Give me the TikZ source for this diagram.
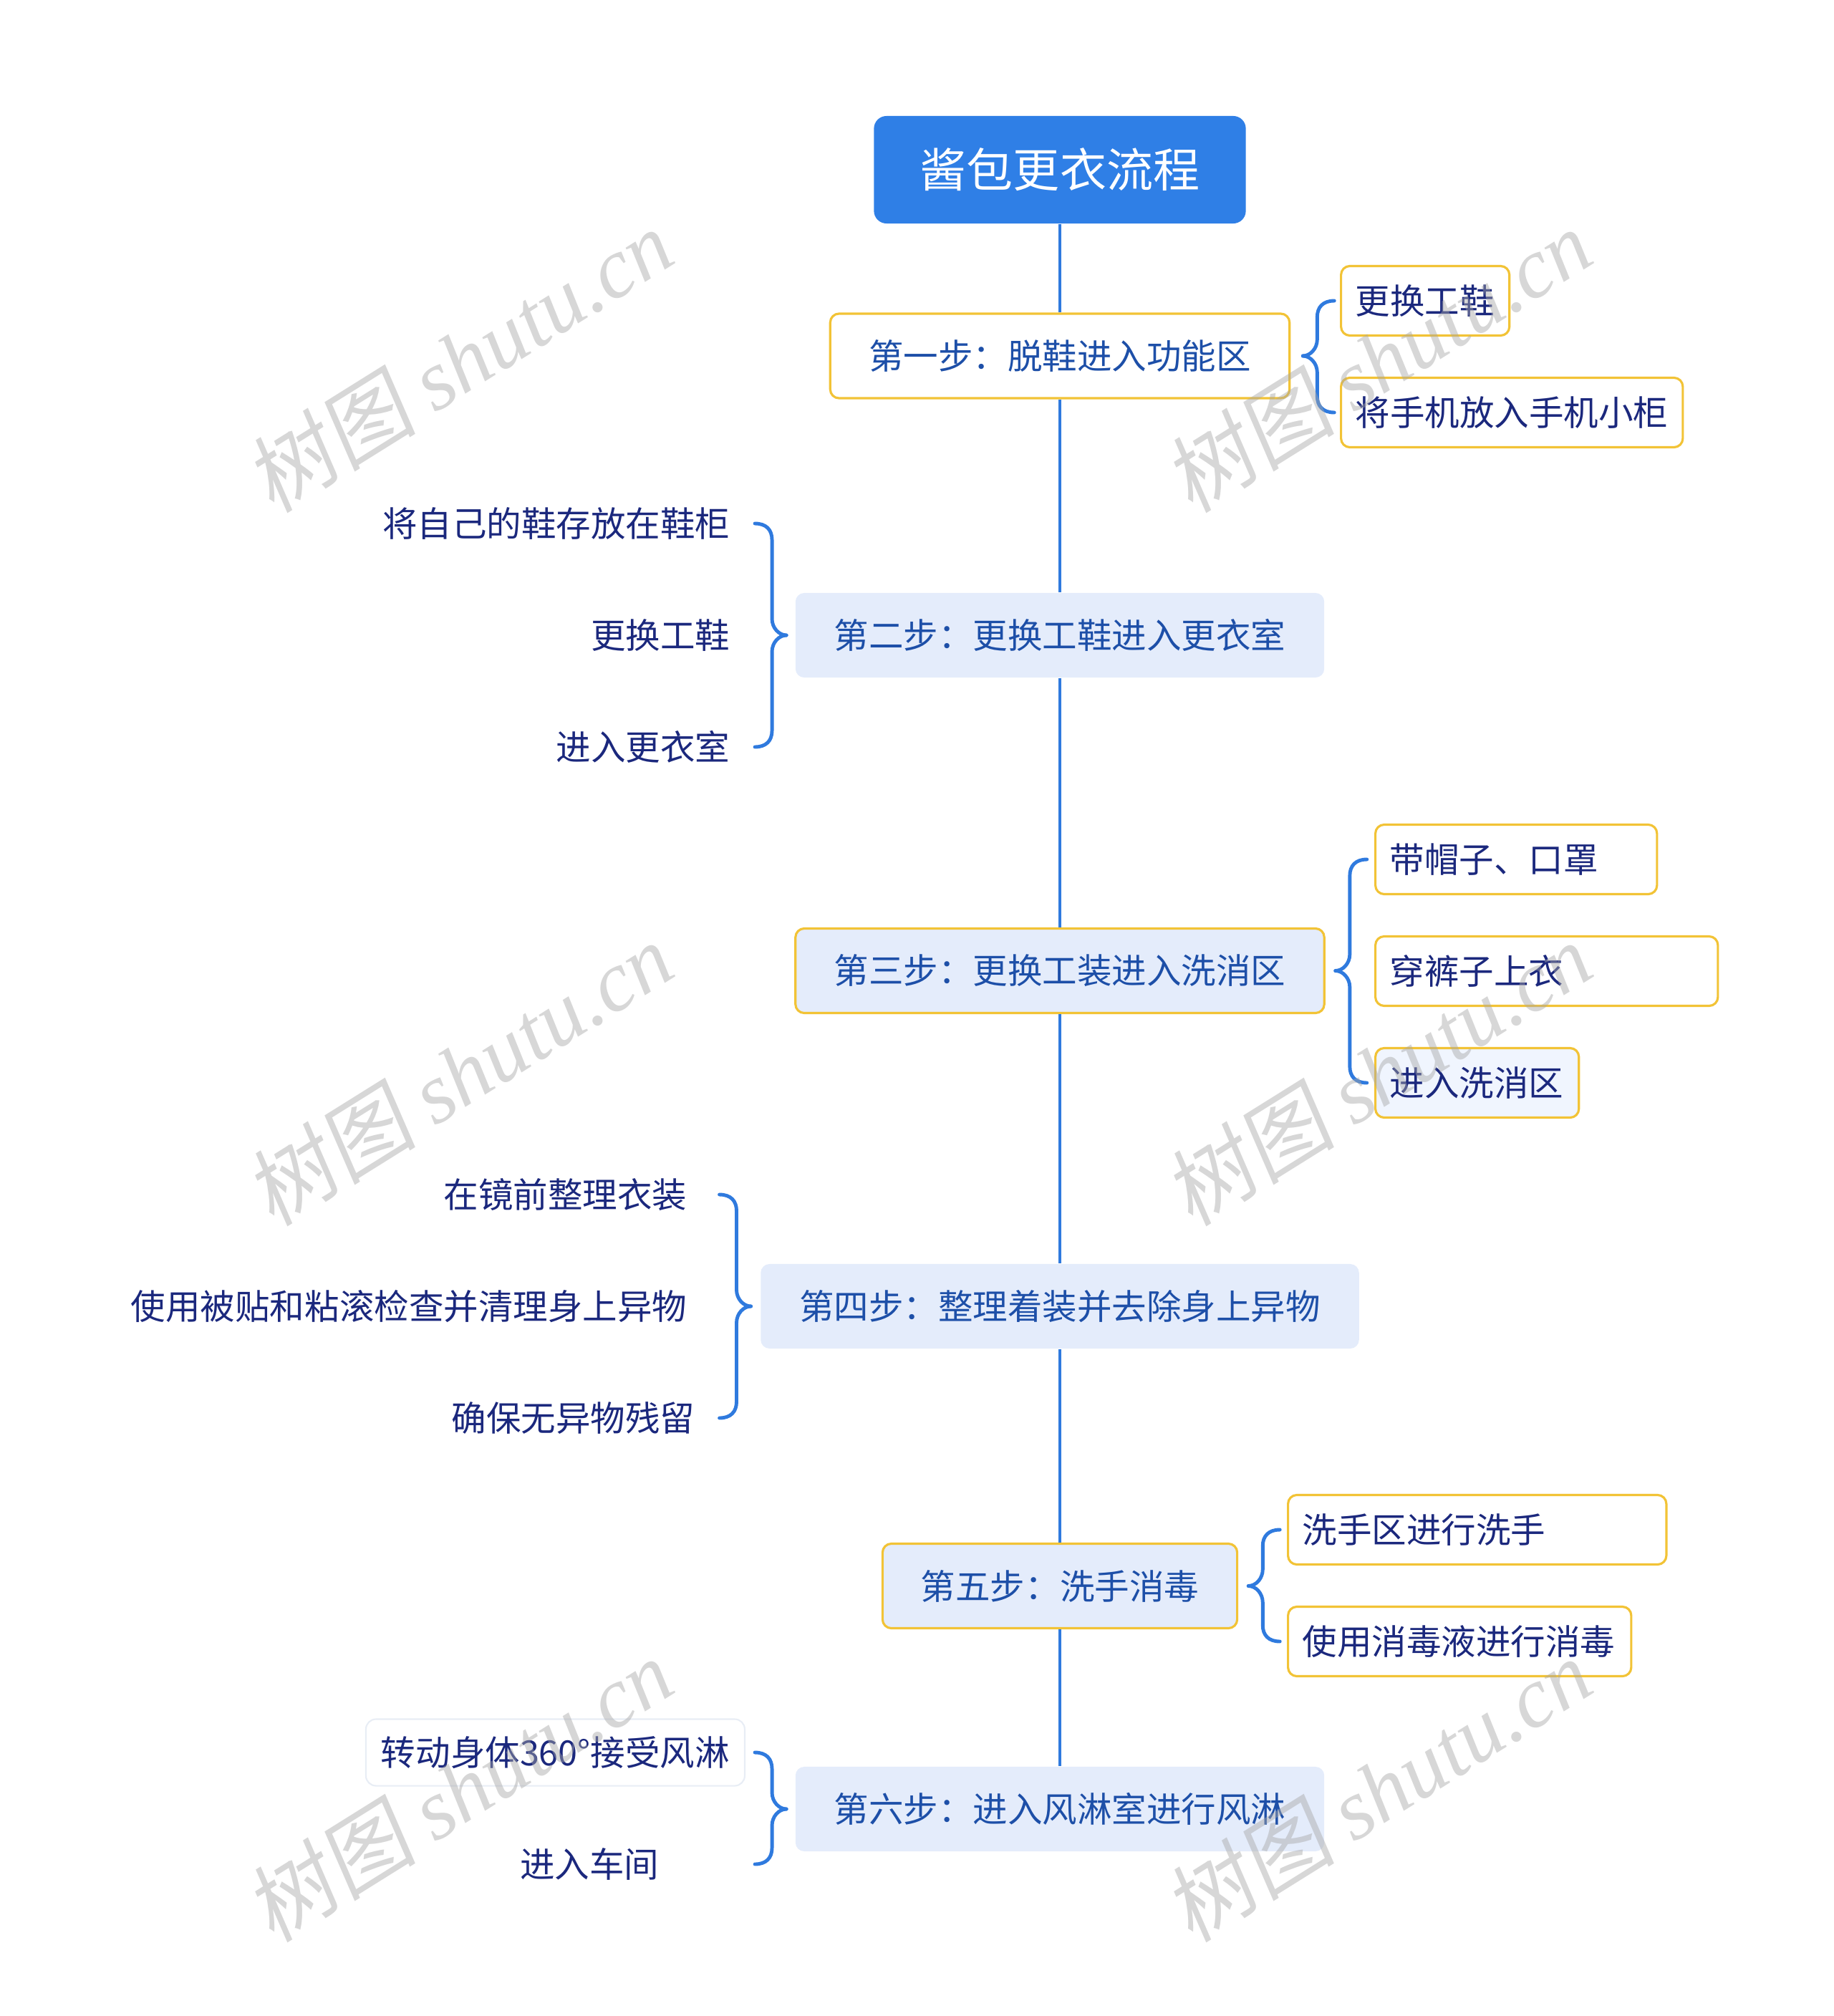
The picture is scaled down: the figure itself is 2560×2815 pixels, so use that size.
\documentclass[tikz,border=0pt]{standalone}
\usepackage{fontspec}
\setmainfont{Noto Sans CJK SC}
\newfontfamily\wmcjk[FakeSlant=0.15]{Noto Sans CJK SC}
\newfontfamily\wmlat{Liberation Serif}
\usetikzlibrary{calc}
\definecolor{rootblue}{RGB}{47,127,230}
\definecolor{lineblue}{RGB}{47,122,222}
\definecolor{gold}{RGB}{242,195,54}
\definecolor{lightfill}{RGB}{228,236,251}
\definecolor{palefill}{RGB}{240,245,254}
\definecolor{steptext}{RGB}{29,79,168}
\definecolor{leaftext}{RGB}{27,40,125}
\definecolor{faintedge}{RGB}{232,237,245}
\newcommand\lbx[2]{\makebox[#1][l]{#2}}
\newcommand\brk[4]{\draw[brline] let \p1=(#1), \p2=(#2) in
  (\x1,\y1) .. controls ({\x1+(#3)*3pt},\y1) and ({\x1+(#3)*5.7pt},{\y1+(#4)*3pt}) ..
  ({\x1+(#3)*5.7pt},{\y1+(#4)*6.5pt}) -- ({\x1+(#3)*5.7pt},{\y2-(#4)*6.5pt})
  .. controls ({\x1+(#3)*5.7pt},{\y2-(#4)*2.5pt}) and ({\x1+(#3)*8pt},\y2) .. ({\x1+(#3)*12.5pt},\y2);}
\begin{document}
\begin{tikzpicture}[x=0.01cm,y=-0.01cm,
  txtfont/.style={font=\fontsize{13.8pt}{16pt}\selectfont},
  rootbox/.style={rounded corners=5pt, fill=rootblue, text=white, font=\fontsize{18.5pt}{22pt}\selectfont,
    minimum width=5.19cm, minimum height=1.5cm, inner sep=0pt},
  stepbase/.style={rounded corners=3.5pt, text=steptext, txtfont, minimum height=1.18cm, inner sep=0pt},
  stepY/.style={stepbase, fill=white, draw=gold, line width=0.9pt},
  stepB/.style={stepbase, fill=lightfill},
  stepBY/.style={stepbase, fill=lightfill, draw=gold, line width=0.9pt},
  leafR/.style={rounded corners=3.5pt, draw=gold, line width=0.9pt, fill=white, text=leaftext, txtfont,
    minimum height=0.97cm, inner xsep=0.2cm, inner ysep=0pt, anchor=west},
  leafL/.style={text=leaftext, txtfont, inner sep=0pt, anchor=east},
  spine/.style={draw=lineblue, line width=1.4pt},
  brline/.style={draw=lineblue, line width=1.4pt, line cap=round},
  wm/.style={rotate=32, text=gray!70, opacity=0.45}
]
\useasboundingbox (0,0) rectangle (2560,2815);

% root and steps
\node[rootbox] (root) at (1480,237) {酱包更衣流程};
\node[stepY, minimum width=6.41cm] (s1) at (1480,497) {第一步：脱鞋进入功能区};
\node[stepB, minimum width=7.38cm] (s2) at (1480,887) {第二步：更换工鞋进入更衣室};
\node[stepBY, minimum width=7.38cm] (s3) at (1480,1355.5) {第三步：更换工装进入洗消区};
\node[stepB, minimum width=8.35cm] (s4) at (1480,1824) {第四步：整理着装并去除身上异物};
\node[stepBY, minimum width=4.95cm] (s5) at (1480,2214.5) {第五步：洗手消毒};
\node[stepB, minimum width=7.38cm] (s6) at (1480,2526) {第六步：进入风淋室进行风淋};

\draw[spine] (root.south) -- (s1.north);
\draw[spine] (s1.south) -- (s2.north);
\draw[spine] (s2.south) -- (s3.north);
\draw[spine] (s3.south) -- (s4.north);
\draw[spine] (s4.south) -- (s5.north);
\draw[spine] (s5.south) -- (s6.north);

% step 1 children
\node[leafR] (c11) at (1871,420) {\lbx{1.95cm}{更换工鞋}};
\node[leafR] (c12) at (1871,576) {\lbx{4.37cm}{将手机放入手机小柜}};
% step 2 children
\node[leafL] (c21) at (1020,731) {将自己的鞋存放在鞋柜};
\node[leafL] (c22) at (1020,887) {更换工鞋};
\node[leafL] (c23) at (1020,1043) {进入更衣室};
% step 3 children
\node[leafR] (c31) at (1919,1200) {\lbx{3.53cm}{带帽子、口罩}};
\node[leafR] (c32) at (1919,1356) {\lbx{4.38cm}{穿裤子上衣}};
\node[leafR, fill=palefill] (c33) at (1919,1512) {\lbx{2.44cm}{进入洗消区}};
% step 4 children
\node[leafL] (c41) at (960,1668) {在镜前整理衣装};
\node[leafL] (c42) at (960,1824) {使用被贴和粘滚检查并清理身上异物};
\node[leafL] (c43) at (971,1980) {确保无异物残留};
% step 5 children
\node[leafR] (c51) at (1797,2136) {\lbx{4.88cm}{洗手区进行洗手}};
\node[leafR] (c52) at (1797,2292) {\lbx{4.39cm}{使用消毒液进行消毒}};
% step 6 children
\node[leafL, draw=faintedge, line width=0.6pt, rounded corners=4pt, fill=white,
  inner xsep=0.21cm, minimum height=0.93cm] (c61) at (1041,2447) {转动身体360°接受风淋};
\node[leafL] (c62) at (921,2603) {进入车间};

% bracket tips
\coordinate (t1) at ($(s1.east)+(17,0)$);
\coordinate (t2) at ($(s2.west)+(-12,0)$);
\coordinate (t3) at ($(s3.east)+(14,0)$);
\coordinate (t4) at ($(s4.west)+(-13,0)$);
\coordinate (t5) at ($(s5.east)+(14,0)$);
\coordinate (t6) at ($(s6.west)+(-12,0)$);

% brackets
\brk{t1}{c11.west}{1}{1}
\brk{t1}{c12.west}{1}{-1}
\brk{t2}{c21.east}{-1}{1}
\brk{t2}{c23.east}{-1}{-1}
\brk{t3}{c31.west}{1}{1}
\brk{t3}{c33.west}{1}{-1}
\brk{t4}{c41.east}{-1}{1}
\brk{t4}{c43.east}{-1}{-1}
\brk{t5}{c51.west}{1}{1}
\brk{t5}{c52.west}{1}{-1}
\brk{t6}{c61.east}{-1}{1}
\brk{t6}{c62.east}{-1}{-1}

% watermarks
\foreach \wx/\wy [count=\i] in {641/503, 1924/503, 641/1499, 1924/1499, 641/2499, 1924/2499}
  \node[wm] (wm\i) at (\wx,\wy) {\fontsize{34pt}{38pt}\selectfont\wmcjk 树图 \wmlat\itshape shutu.cn};
\end{tikzpicture}
\end{document}
